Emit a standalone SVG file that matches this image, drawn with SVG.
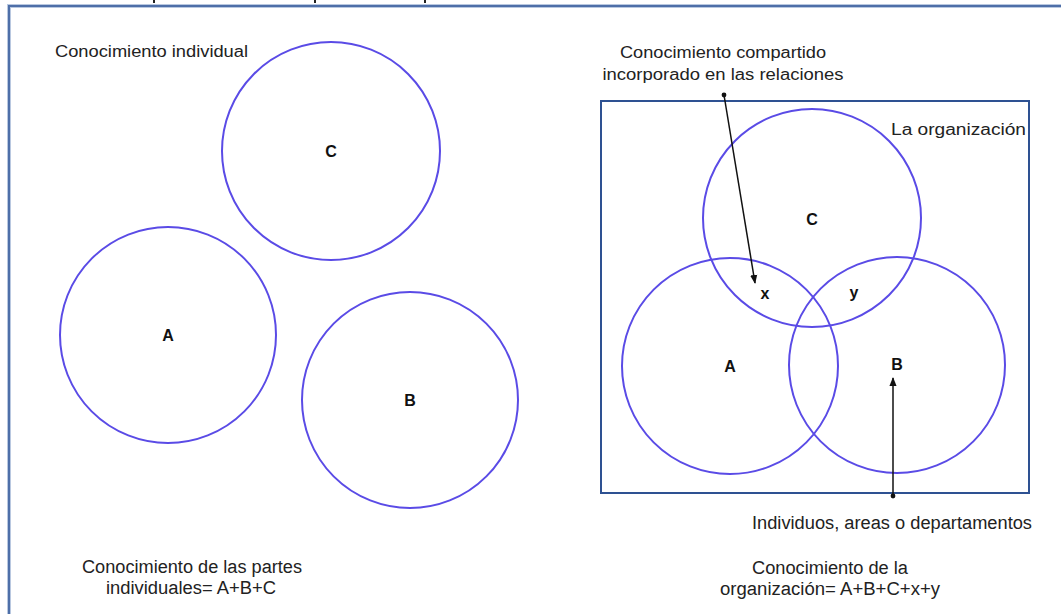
<svg xmlns="http://www.w3.org/2000/svg" width="1061" height="614" viewBox="0 0 1061 614">
  <style>
    .circ { fill: none; stroke: #5a4be6; stroke-width: 2; }
    .lbl { font-family: "Liberation Sans", Arial, sans-serif; font-size: 16px; fill: #222; }
    .cond { font-family: "Liberation Sans", Arial, sans-serif; font-size: 18px; fill: #222; }
    .big { font-family: "Liberation Sans", Arial, sans-serif; font-size: 16px; font-weight: bold; fill: #111; text-anchor: middle; }
    .conn { stroke: #111; stroke-width: 1.5; fill: none; }
  </style>
  <defs>
    <marker id="arrow" viewBox="0 0 10 10" refX="9" refY="5" markerWidth="6" markerHeight="6" orient="auto">
      <path d="M0,1 L10,5 L0,9 z" fill="#111"/>
    </marker>
    <marker id="dot" viewBox="0 0 10 10" refX="5" refY="5" markerWidth="4" markerHeight="4">
      <circle cx="5" cy="5" r="4" fill="#111"/>
    </marker>
  </defs>
  <rect width="1061" height="614" fill="#ffffff"/>
  <!-- page frame -->
  <path d="M9,614 L9,6 L1061,6" fill="none" stroke="#b9c8e0" stroke-width="4"/>
  <path d="M9,614 L9,6 L1061,6" fill="none" stroke="#4e6fa8" stroke-width="2"/>
  <rect x="153" y="0" width="2" height="3" fill="#222"/>
  <rect x="314" y="0" width="2" height="3" fill="#222"/>
  <rect x="424" y="0" width="2" height="3" fill="#222"/>

  <!-- left panel: separate parts -->
  <g id="title-individual">
    <text class="lbl" x="55" y="57" textLength="193" lengthAdjust="spacingAndGlyphs">Conocimiento individual</text>
  </g>
  <g id="left-C">
    <circle class="circ" cx="331" cy="151" r="109"/>
    <text class="big" x="331" y="157">C</text>
  </g>
  <g id="left-A">
    <circle class="circ" cx="168" cy="335" r="108"/>
    <text class="big" x="168" y="341">A</text>
  </g>
  <g id="left-B">
    <circle class="circ" cx="410" cy="400" r="108"/>
    <text class="big" x="410" y="406">B</text>
  </g>
  <g id="sum-parts">
    <text class="cond" x="192" y="573" text-anchor="middle" textLength="220" lengthAdjust="spacingAndGlyphs">Conocimiento de las partes</text>
    <text class="cond" x="191" y="594" text-anchor="middle" textLength="170" lengthAdjust="spacingAndGlyphs">individuales= A+B+C</text>
  </g>

  <!-- right panel: the organisation -->
  <g id="organizacion">
    <rect x="601" y="101" width="428" height="392" fill="none" stroke="#2e5192" stroke-width="2"/>
    <text class="lbl" x="891" y="135" textLength="135" lengthAdjust="spacingAndGlyphs">La organización</text>
  </g>
  <g id="right-C">
    <circle class="circ" cx="812" cy="218" r="109"/>
    <text class="big" x="812" y="225">C</text>
  </g>
  <g id="right-A">
    <circle class="circ" cx="730" cy="366" r="108"/>
    <text class="big" x="730" y="372">A</text>
  </g>
  <g id="right-B">
    <circle class="circ" cx="897" cy="365" r="108"/>
    <text class="big" x="897" y="370">B</text>
  </g>
  <g id="overlap-x">
    <text class="big" x="765" y="299">x</text>
  </g>
  <g id="overlap-y">
    <text class="big" x="854" y="298">y</text>
  </g>
  <g id="shared-label">
    <text class="lbl" x="723" y="58" text-anchor="middle" textLength="206" lengthAdjust="spacingAndGlyphs">Conocimiento compartido</text>
    <text class="lbl" x="723" y="80" text-anchor="middle" textLength="241" lengthAdjust="spacingAndGlyphs">incorporado en las relaciones</text>
  </g>
  <g id="units-label">
    <text class="cond" x="892" y="529" text-anchor="middle" textLength="280" lengthAdjust="spacingAndGlyphs">Individuos, areas o departamentos</text>
  </g>
  <g id="sum-org">
    <text class="cond" x="830" y="574" text-anchor="middle" textLength="156" lengthAdjust="spacingAndGlyphs">Conocimiento de la</text>
    <text class="cond" x="830" y="595" text-anchor="middle" textLength="220" lengthAdjust="spacingAndGlyphs">organización= A+B+C+x+y</text>
  </g>

  <!-- connectors -->
  <g id="connectors">
    <line class="conn" x1="724" y1="95" x2="755" y2="283" marker-start="url(#dot)" marker-end="url(#arrow)"/>
    <line class="conn" x1="893" y1="496" x2="893" y2="378" marker-start="url(#dot)" marker-end="url(#arrow)"/>
  </g>
</svg>
